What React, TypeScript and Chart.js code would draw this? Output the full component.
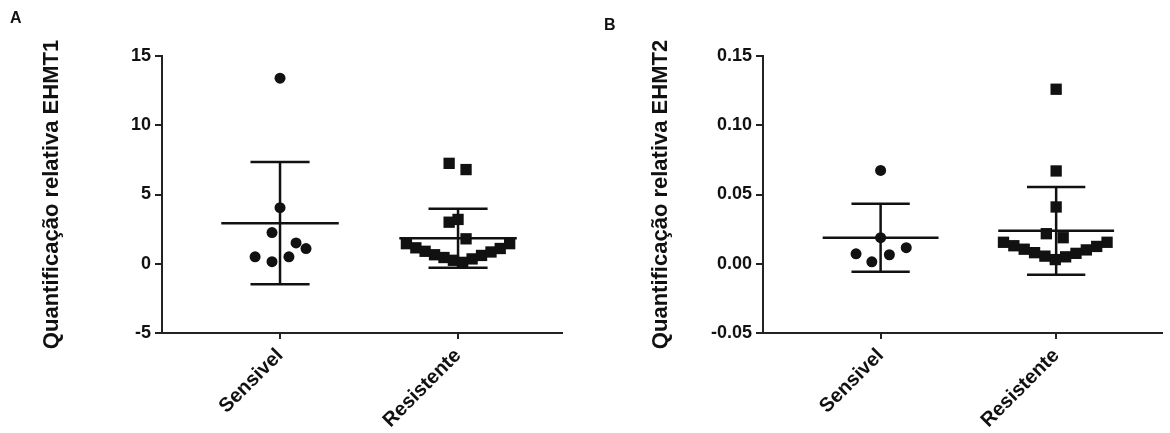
import React, { useEffect, useRef } from "react";
import { Chart, registerables } from "chart.js";

Chart.register(...registerables);

const FONT = "'Liberation Sans', Arial, Helvetica, sans-serif";
const INK = "#111";

const categories = ["Sensivel", "Resistente"];

// Panel A – EHMT1
const aSensValues = [13.4, 4.05, 2.25, 1.5, 1.1, 0.5, 0.15, 0.5];
const aSensJitter = [0, 0, -0.045, 0.09, 0.146, -0.14, -0.045, 0.05];
const aResValues = [7.25, 6.8, 3.0, 3.2, 1.8, 1.45, 1.15, 0.9, 0.65, 0.45, 0.25, 0.1, 0.35, 0.6, 0.85, 1.1, 1.45];
const aResJitter = [-0.05, 0.045, -0.05, 0, 0.045, -0.29, -0.237, -0.185, -0.132, -0.079, -0.026, 0.026, 0.079, 0.132, 0.185, 0.237, 0.29];
const aYTicks = [-5, 0, 5, 10, 15];
const aYLabels = ["-5", "0", "5", "10", "15"];

// Panel B – EHMT2
const bSensValues = [0.0674, 0.0188, 0.0116, 0.0065, 0.0072, 0.0014];
const bSensJitter = [0, 0, 0.146, 0.05, -0.14, -0.05];
const bResValues = [0.126, 0.067, 0.041, 0.0217, 0.0188, 0.0155, 0.013, 0.0105, 0.008, 0.0055, 0.003, 0.005, 0.0075, 0.01, 0.0125, 0.0155];
const bResJitter = [0, 0, 0, -0.056, 0.04, -0.3, -0.241, -0.182, -0.123, -0.064, -0.005, 0.054, 0.113, 0.172, 0.231, 0.29];
const bYTicks = [-0.05, 0, 0.05, 0.1, 0.15];
const bYLabels = ["-0.05", "0.00", "0.05", "0.10", "0.15"];

const MEAN_HALF = 0.33;
const CAP_HALF = 0.166;

function meanOf(v: number[]) {
  return v.reduce((a, b) => a + b, 0) / v.length;
}
function sdOf(v: number[]) {
  const m = meanOf(v);
  return Math.sqrt(v.reduce((a, b) => a + (b - m) * (b - m), 0) / (v.length - 1));
}

function lineDs(points: { x: number; y: number }[]) {
  return {
    data: points,
    showLine: true,
    borderColor: INK,
    borderWidth: 2.5,
    pointRadius: 0,
    fill: false,
  };
}

function groupDatasets(values: number[], jitter: number[], center: number, style: string, radius: number) {
  const m = meanOf(values);
  const s = sdOf(values);
  return [
    lineDs([{ x: center - MEAN_HALF, y: m }, { x: center + MEAN_HALF, y: m }]),
    lineDs([{ x: center, y: m - s }, { x: center, y: m + s }]),
    lineDs([{ x: center - CAP_HALF, y: m + s }, { x: center + CAP_HALF, y: m + s }]),
    lineDs([{ x: center - CAP_HALF, y: m - s }, { x: center + CAP_HALF, y: m - s }]),
    {
      data: values.map((v, i) => ({ x: center + jitter[i], y: v })),
      pointStyle: style,
      pointRadius: radius,
      pointBackgroundColor: INK,
      pointBorderColor: INK,
      pointBorderWidth: 0,
      showLine: false,
    },
  ];
}

type PanelProps = {
  left: number;
  width: number;
  sens: number[];
  sensJ: number[];
  res: number[];
  resJ: number[];
  yTicks: number[];
  yLabels: string[];
  title: string;
  yWidth: number;
  titlePad: number;
  padRight: number;
  xMin: number;
  xMax: number;
};

function Panel(p: PanelProps) {
  const ref = useRef<HTMLCanvasElement | null>(null);
  useEffect(() => {
    if (!ref.current) return;
    const datasets: any[] = [
      ...groupDatasets(p.sens, p.sensJ, 1, "circle", 5.5),
      ...groupDatasets(p.res, p.resJ, 2, "rect", 8),
    ];
    const chart = new Chart(ref.current, {
      type: "scatter",
      data: { datasets },
      options: {
        animation: false,
        responsive: false,
        maintainAspectRatio: false,
        layout: { padding: { left: 0, right: p.padRight, top: 56, bottom: 0 } },
        plugins: { legend: { display: false }, tooltip: { enabled: false } },
        scales: {
          x: {
            type: "linear",
            min: p.xMin,
            max: p.xMax,
            afterBuildTicks: (s: any) => {
              s.ticks = categories.map((_, i) => ({ value: i + 1 }));
            },
            afterFit: (s: any) => {
              s.height = 100;
            },
            ticks: {
              autoSkip: false,
              minRotation: 45,
              maxRotation: 45,
              padding: 5,
              color: INK,
              font: { family: FONT, size: 20, weight: "bold" },
              callback: (v: any) => categories[Math.round(Number(v)) - 1] ?? "",
            },
            grid: { display: true, drawOnChartArea: false, drawTicks: true, tickLength: 6, color: "#222", lineWidth: 2 },
            border: { display: true, color: "#222", width: 2 },
          },
          y: {
            type: "linear",
            min: p.yTicks[0],
            max: p.yTicks[p.yTicks.length - 1],
            afterBuildTicks: (s: any) => {
              s.ticks = p.yTicks.map((v) => ({ value: v }));
            },
            afterFit: (s: any) => {
              s.width = p.yWidth;
            },
            ticks: {
              autoSkip: false,
              padding: 4,
              color: INK,
              font: { family: FONT, size: 18, weight: "bold" },
              callback: (_v: any, i: number) => p.yLabels[i],
            },
            title: {
              display: true,
              text: p.title,
              color: INK,
              font: { family: FONT, size: 22, weight: "bold" },
              padding: { top: p.titlePad, bottom: 0 },
            },
            grid: { display: true, drawOnChartArea: false, drawTicks: true, tickLength: 7, color: "#222", lineWidth: 2 },
            border: { display: true, color: "#222", width: 2 },
          },
        },
      } as any,
    });
    return () => chart.destroy();
  }, []);
  return (
    <canvas
      ref={ref}
      width={p.width}
      height={433}
      style={{ position: "absolute", left: p.left, top: 0, width: p.width, height: 433 }}
    />
  );
}

export default function App() {
  const letter: React.CSSProperties = {
    position: "absolute",
    fontFamily: FONT,
    fontWeight: "bold",
    fontSize: 16,
    color: INK,
    lineHeight: "16px",
  };
  return (
    <div style={{ position: "fixed", left: 0, top: 0, width: 1170, height: 433, background: "#fff", overflow: "hidden" }}>
      <Panel
        left={0}
        width={590}
        sens={aSensValues}
        sensJ={aSensJitter}
        res={aResValues}
        resJ={aResJitter}
        yTicks={aYTicks}
        yLabels={aYLabels}
        title="Quantificação relativa EHMT1"
        yWidth={162}
        titlePad={39}
        padRight={28}
        xMin={0.337}
        xMax={2.584}
      />
      <Panel
        left={590}
        width={580}
        sens={bSensValues}
        sensJ={bSensJitter}
        res={bResValues}
        resJ={bResJitter}
        yTicks={bYTicks}
        yLabels={bYLabels}
        title="Quantificação relativa EHMT2"
        yWidth={173}
        titlePad={58}
        padRight={0}
        xMin={0.33}
        xMax={2.603}
      />
      <div style={{ ...letter, left: 10, top: 10 }}>A</div>
      <div style={{ ...letter, left: 604, top: 17 }}>B</div>
    </div>
  );
}
